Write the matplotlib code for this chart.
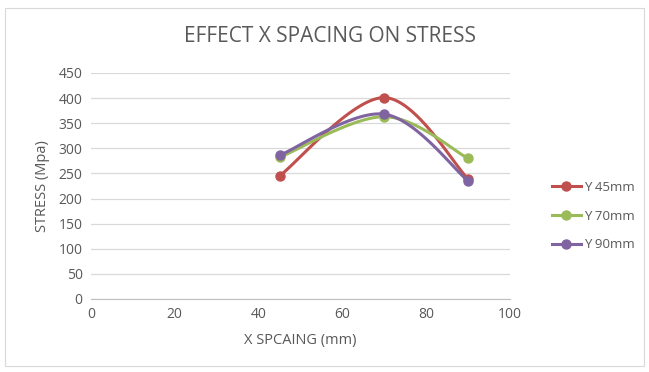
import numpy as np
import matplotlib
matplotlib.use("Agg")
import matplotlib.pyplot as plt
from matplotlib.patches import Rectangle

x_vals = [45, 70, 90]
y45 = [245, 401, 239]
y70 = [282, 363, 280]
y90 = [286, 368, 235]
series_names = ["Y 45mm", "Y 70mm", "Y 90mm"]
colors = ["#C0504D", "#9BBB59", "#8064A2"]

plt.rcParams['font.family'] = ['Open Sans', 'DejaVu Sans']

def smooth(xs, ys, n=40):
    xs = np.asarray(xs, float); ys = np.asarray(ys, float)
    P = np.column_stack([xs, ys])
    out = [P[0]]
    for i in range(len(P) - 1):
        p0 = P[i - 1] if i > 0 else P[i]
        p1 = P[i]; p2 = P[i + 1]
        p3 = P[i + 2] if i + 2 < len(P) else P[i + 1]
        c1 = p1 + (p2 - p0) / 6.0
        c2 = p2 - (p3 - p1) / 6.0
        t = np.linspace(0, 1, n)[1:, None]
        b = ((1 - t) ** 3) * p1 + 3 * ((1 - t) ** 2) * t * c1 + 3 * (1 - t) * t ** 2 * c2 + t ** 3 * p2
        out.extend(b)
    out = np.array(out)
    return out[:, 0], out[:, 1]

fig = plt.figure(figsize=(6.49, 3.72), dpi=100)
fig.patches.append(Rectangle((5 / 649, 1 - 366 / 372), 639 / 649, 358 / 372,
                             transform=fig.transFigure, fill=False,
                             edgecolor="#D9D9D9", linewidth=0.8))
ax = fig.add_axes([91 / 649, 1 - 299 / 372, 419 / 649, 226 / 372])

for ys, name, c in zip([y45, y70, y90], series_names, colors):
    sx, sy = smooth(x_vals, ys)
    ax.plot(sx, sy, color=c, linewidth=2.2, solid_capstyle='round')
    ax.plot(x_vals, ys, linestyle='none', marker='o', markersize=6.5, color=c)
    ax.plot([], [], color=c, linewidth=2.2, marker='o', markersize=6.5, label=name)

ax.set_xlim(0, 100)
ax.set_ylim(0, 450)
ax.set_xticks(range(0, 101, 20))
ax.set_yticks(range(0, 451, 50))
ax.grid(axis='y', color="#D9D9D9", linewidth=0.9)
ax.set_axisbelow(True)
for s in ['top', 'right', 'left']:
    ax.spines[s].set_visible(False)
ax.spines['bottom'].set_color("#BFBFBF")
ax.tick_params(axis='both', length=0, labelsize=10, labelcolor="#595959", pad=6)

ax.set_xlabel("X SPCAING (mm)", fontsize=10.5, color="#595959", labelpad=8)
ax.set_ylabel("STRESS (Mpa)", fontsize=10.5, color="#595959", labelpad=6)
fig.text(330 / 649, 1 - 37 / 372, "EFFECT X SPACING ON STRESS", ha='center', va='center',
         fontsize=15, color="#595959")

leg = ax.legend(loc='center left', bbox_to_anchor=(540 / 649, 1 - 216 / 372),
                bbox_transform=fig.transFigure, frameon=False, fontsize=9.5,
                labelspacing=1.2, handlelength=2.2, handletextpad=0.2)
for t in leg.get_texts():
    t.set_color("#595959")

fig.savefig("out.png", dpi=100)
